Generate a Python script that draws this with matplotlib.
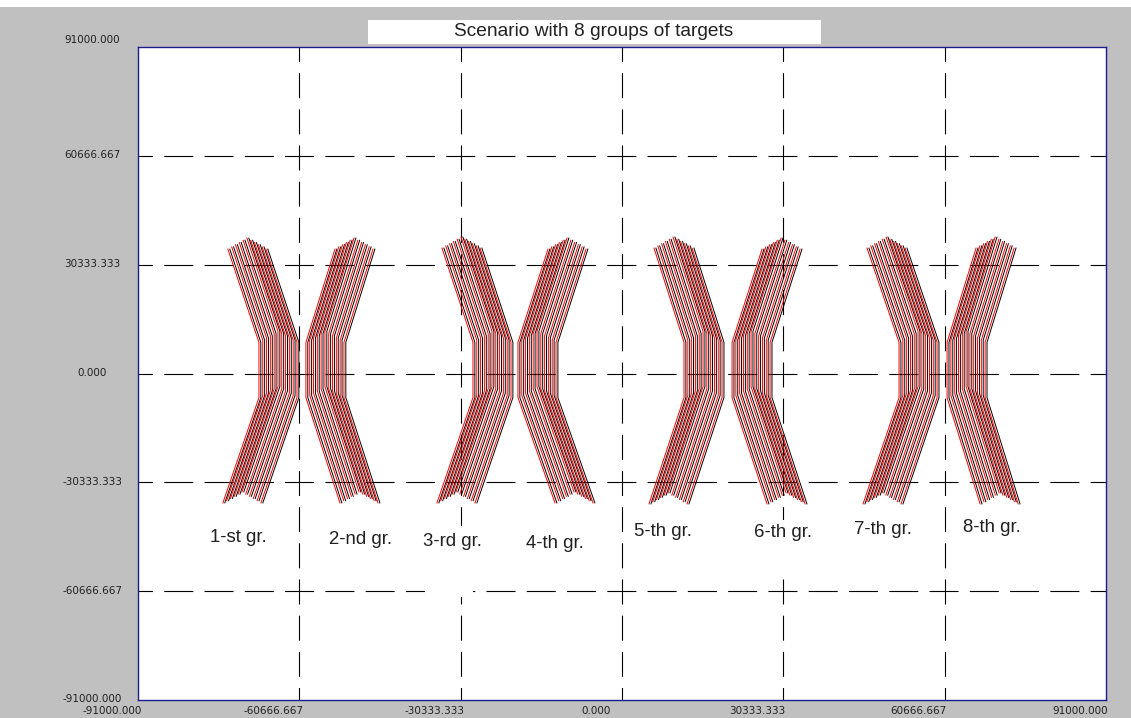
import matplotlib
matplotlib.use("Agg")
import matplotlib.pyplot as plt
import numpy as np
from matplotlib.patches import Rectangle
from matplotlib.transforms import ScaledTranslation

plt.rcParams['font.family'] = ['Liberation Sans', 'DejaVu Sans']
plt.rcParams['lines.scale_dashes'] = False

LIMIT = 91000.0

group_labels = ['1-st gr.', '2-nd gr.', '3-rd gr.', '4-th gr.',
                '5-th gr.', '6-th gr.', '7-th gr.', '8-th gr.']

# leftmost track of each group: start point, upper bend, lower bend, end point
start_x = [-74100, -53970, -33850, -13920, 6020, 26330, 46070, 66570]
start_y = [34670, 34670, 34950, 34670, 34950, 34670, 34950, 34950]
bend_x = [-68260, -59430, -28020, -19560, 11660, 20690, 52090, 61120]
bend_upper_y = [8670, 8670, 8670, 8670, 8670, 8670, 8670, 8670]
bend_lower_y = [-6710, -6710, -6710, -6710, -6710, -6710, -6710, -6710]
end_x = [-75040, -53030, -34790, -12600, 5080, 27270, 45320, 67330]
end_y = [-36070, -36070, -36070, -36070, -36350, -36350, -36350, -36350]

# V formation of the 11 targets in a group, relative to the leftmost track
formation_dx = [0, 715, 1430, 2145, 2860, 3575, 4290, 5005, 5720, 6435, 7150]
formation_dy = [0, 614, 1228, 1842, 2456, 3070, 2456, 1842, 1228, 614, 0]
truth_shift = 357  # black track sits a little right of the red one

label_x = [-72215, -49085, -31970, -12600, 7710, 30280, 49080, 69580]
label_y = [-45570, -46130, -46690, -47250, -44170, -44450, -43610, -43050]

W, H = 1131, 718
fig = plt.figure(figsize=(W / 100, H / 100), dpi=100, facecolor='#c0c0c0')
ax = fig.add_axes([138 / W, 1 - 700 / H, 968 / W, 653 / H])
ax.set_facecolor('white')
ax.set_xlim(-LIMIT, LIMIT)
ax.set_ylim(-LIMIT, LIMIT)

# white strip at the very top and the title box
fig.patches.append(Rectangle((0, 1 - 7 / H), 1, 7 / H, transform=fig.transFigure,
                             facecolor='white', edgecolor='none'))
fig.patches.append(Rectangle((368 / W, 1 - 44 / H), 453 / W, 24 / H, transform=fig.transFigure,
                             facecolor='white', edgecolor='none'))
fig.text(594 / W, 1 - 32 / H, 'Scenario with 8 groups of targets', ha='center', va='center',
         fontsize=13.8, color='#202020')

ticks = np.linspace(-LIMIT, LIMIT, 7)
ticks = np.where(np.abs(ticks) < 1e-6, 0.0, ticks)
tick_text = [f"{v:.3f}" for v in ticks]

# dashed grid, dashes centred on the crossings
h_on, h_off = 20.9, 8.1
v_on, v_off = 18.0, 8.04
for v in ticks[1:-1]:
    ax.axhline(v, color='black', lw=0.8, linestyle=(h_on / 2, (h_on, h_off)), zorder=1)
    ax.axvline(v, color='black', lw=0.8, linestyle=(v_on / 2, (v_on, v_off)), zorder=1)

# tracks
for g in range(len(group_labels)):
    px = np.array([start_x[g], bend_x[g], bend_x[g], end_x[g]], dtype=float)
    py = np.array([start_y[g], bend_upper_y[g], bend_lower_y[g], end_y[g]], dtype=float)
    for dx, dy in zip(formation_dx, formation_dy):
        ax.plot(px + dx, py + dy, color='red', lw=0.7, zorder=3)
        ax.plot(px + dx + truth_shift, py + dy, color='black', lw=0.7, zorder=3)

# white patches left behind by two of the labels
ax.add_patch(Rectangle((-37050, -62340), 9030, 19840, facecolor='white', edgecolor='none', zorder=2))
ax.add_patch(Rectangle((24640, -57030), 11280, 16210, facecolor='white', edgecolor='none', zorder=2))

for name, lx, ly in zip(group_labels, label_x, label_y):
    ax.text(lx, ly, name, ha='center', va='center', fontsize=13.4, color='#202020', zorder=4)

ax.set_xticks(ticks)
ax.set_yticks(ticks)
ax.set_xticklabels(tick_text, family='DejaVu Sans', fontsize=7.5, color='#202020')
ax.set_yticklabels(tick_text, family='DejaVu Sans', fontsize=7.5, color='#202020', ha='center')
ax.tick_params(axis='both', length=0)
ax.tick_params(axis='x', pad=4)
ax.tick_params(axis='y', pad=33)
for lbl in ax.get_xticklabels():
    lbl.set_transform(lbl.get_transform() + ScaledTranslation(-0.26, 0, fig.dpi_scale_trans))
ylabels = ax.get_yticklabels()
for lbl in ylabels:
    lbl.set_transform(lbl.get_transform() + ScaledTranslation(0, 0.015, fig.dpi_scale_trans))
ylabels[-1].set_transform(ylabels[-1].get_transform() + ScaledTranslation(0, 0.065, fig.dpi_scale_trans))

for sp in ax.spines.values():
    sp.set_color('#1c1c8a')
    sp.set_linewidth(1.0)

fig.savefig('out.png', dpi=100, facecolor=fig.get_facecolor())
